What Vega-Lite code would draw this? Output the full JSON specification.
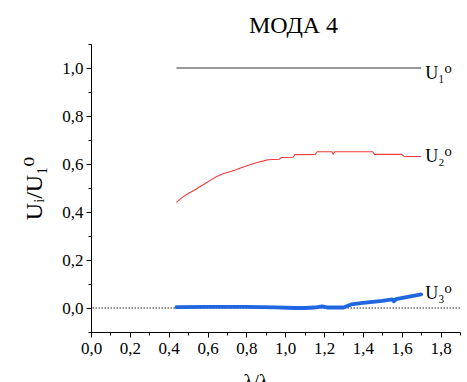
{
  "$schema": "https://vega.github.io/schema/vega-lite/v6.json",
  "autosize": {"type": "none"},
  "width": 369,
  "height": 288,
  "padding": {"left": 91, "top": 44, "right": 7, "bottom": 50},
  "background": "white",
  "config": {
    "view": {"stroke": null},
    "font": "Liberation Serif",
    "axis": {"domainColor": "black", "tickColor": "black", "labelColor": "black", "titleColor": "black", "labelFont": "Liberation Serif", "titleFont": "Liberation Serif, DejaVu Serif", "grid": false}
  },
  "title": {"text": "МОДА 4", "font": "Liberation Serif", "fontSize": 24, "fontWeight": "normal", "color": "black", "dx": 18, "frame": "group", "offset": 6},
  "resolve": {"axis": {"x": "independent", "y": "independent"}},
  "datasets": {
    "lines": [
      {"s": "U1", "x": 0.44, "y": 1.0},
      {"s": "U1", "x": 1.70, "y": 1.0},
      {"s": "U2", "x": 0.44, "y": 0.440},
      {"s": "U2", "x": 0.47, "y": 0.461},
      {"s": "U2", "x": 0.50, "y": 0.477},
      {"s": "U2", "x": 0.53, "y": 0.490},
      {"s": "U2", "x": 0.56, "y": 0.505},
      {"s": "U2", "x": 0.59, "y": 0.520},
      {"s": "U2", "x": 0.62, "y": 0.535},
      {"s": "U2", "x": 0.65, "y": 0.549},
      {"s": "U2", "x": 0.68, "y": 0.559},
      {"s": "U2", "x": 0.71, "y": 0.567},
      {"s": "U2", "x": 0.74, "y": 0.574},
      {"s": "U2", "x": 0.77, "y": 0.583},
      {"s": "U2", "x": 0.80, "y": 0.592},
      {"s": "U2", "x": 0.83, "y": 0.600},
      {"s": "U2", "x": 0.86, "y": 0.607},
      {"s": "U2", "x": 0.89, "y": 0.613},
      {"s": "U2", "x": 0.91, "y": 0.618},
      {"s": "U2", "x": 0.97, "y": 0.620},
      {"s": "U2", "x": 0.98, "y": 0.627},
      {"s": "U2", "x": 1.04, "y": 0.628},
      {"s": "U2", "x": 1.05, "y": 0.639},
      {"s": "U2", "x": 1.155, "y": 0.640},
      {"s": "U2", "x": 1.165, "y": 0.651},
      {"s": "U2", "x": 1.24, "y": 0.651},
      {"s": "U2", "x": 1.247, "y": 0.642},
      {"s": "U2", "x": 1.255, "y": 0.651},
      {"s": "U2", "x": 1.45, "y": 0.651},
      {"s": "U2", "x": 1.46, "y": 0.640},
      {"s": "U2", "x": 1.60, "y": 0.640},
      {"s": "U2", "x": 1.612, "y": 0.631},
      {"s": "U2", "x": 1.70, "y": 0.631},
      {"s": "U3", "x": 0.44, "y": 0.004},
      {"s": "U3", "x": 0.60, "y": 0.005},
      {"s": "U3", "x": 0.80, "y": 0.005},
      {"s": "U3", "x": 0.95, "y": 0.003},
      {"s": "U3", "x": 1.05, "y": 0.000},
      {"s": "U3", "x": 1.10, "y": 0.000},
      {"s": "U3", "x": 1.15, "y": 0.002},
      {"s": "U3", "x": 1.19, "y": 0.007},
      {"s": "U3", "x": 1.22, "y": 0.002},
      {"s": "U3", "x": 1.30, "y": 0.002},
      {"s": "U3", "x": 1.34, "y": 0.015},
      {"s": "U3", "x": 1.40, "y": 0.021},
      {"s": "U3", "x": 1.50, "y": 0.030},
      {"s": "U3", "x": 1.55, "y": 0.036},
      {"s": "U3", "x": 1.56, "y": 0.028},
      {"s": "U3", "x": 1.57, "y": 0.037},
      {"s": "U3", "x": 1.70, "y": 0.057}
    ],
    "labels": [
      {"s": "U1", "x": 1.70, "y": 1.0, "label": "U₁⁰"},
      {"s": "U2", "x": 1.70, "y": 0.631, "label": "U₂⁰"},
      {"s": "U3", "x": 1.70, "y": 0.057, "label": "U₃⁰"}
    ],
    "zero": [{"y": 0}]
  },
  "layer": [
    {
      "data": {"name": "lines"},
      "transform": [{"filter": "datum.s == 'U1'"}],
      "mark": {"type": "line", "color": "#333333", "strokeWidth": 1},
      "encoding": {
        "x": {
          "field": "x", "type": "quantitative",
          "scale": {"domain": [0, 1.9], "nice": false, "zero": false},
          "axis": {
            "orient": "bottom",
            "values": [0, 0.2, 0.4, 0.6, 0.8, 1.0, 1.2, 1.4, 1.6, 1.8],
            "labelExpr": "replace(format(datum.value, '.1f'), '.', ',')",
            "tickSize": 5, "labelFontSize": 17, "labelPadding": 3, "labelFlush": false, "labelOverlap": false,
            "title": "λ/λ₀", "titleFontSize": 20, "titleFontWeight": "normal", "titlePadding": 16, "titleX": 168
          }
        },
        "y": {
          "field": "y", "type": "quantitative",
          "scale": {"domain": [-0.1, 1.1], "nice": false, "zero": false},
          "axis": {
            "orient": "left",
            "values": [0, 0.2, 0.4, 0.6, 0.8, 1.0],
            "labelExpr": "replace(format(datum.value, '.1f'), '.', ',')",
            "tickSize": 5, "labelFontSize": 17, "labelPadding": 3, "labelFlush": false, "labelOverlap": false,
            "title": "Uᵢ/U₁⁰", "titleFontSize": 24, "titleFontWeight": "normal", "titlePadding": 15
          }
        }
      }
    },
    {
      "data": {"name": "lines"},
      "transform": [{"filter": "datum.s == 'U2'"}],
      "mark": {"type": "line", "color": "#ee3b3b", "strokeWidth": 1.1},
      "encoding": {
        "x": {
          "field": "x", "type": "quantitative",
          "axis": {"orient": "bottom", "values": [0.1, 0.3, 0.5, 0.7, 0.9, 1.1, 1.3, 1.5, 1.7, 1.9], "labels": false, "domain": false, "tickSize": 3, "title": null}
        },
        "y": {
          "field": "y", "type": "quantitative",
          "axis": {"orient": "left", "values": [-0.1, 0.1, 0.3, 0.5, 0.7, 0.9, 1.1], "labels": false, "domain": false, "tickSize": 3, "title": null}
        }
      }
    },
    {
      "data": {"name": "zero"},
      "mark": {"type": "rule", "color": "#222", "strokeWidth": 1, "strokeDash": [1.5, 1.5]},
      "encoding": {
        "y": {"field": "y", "type": "quantitative", "axis": null}
      }
    },
    {
      "data": {"name": "lines"},
      "transform": [{"filter": "datum.s == 'U3'"}],
      "mark": {"type": "line", "color": "#1f66e0", "strokeWidth": 3.8, "strokeCap": "round", "strokeJoin": "round"},
      "encoding": {
        "x": {"field": "x", "type": "quantitative", "axis": null},
        "y": {"field": "y", "type": "quantitative", "axis": null}
      }
    },
    {
      "data": {"name": "labels"},
      "transform": [{"filter": "datum.s == 'U1'"}],
      "mark": {"type": "text", "align": "left", "baseline": "middle", "dx": 4, "dy": 6, "fontSize": 18, "font": "Liberation Serif, DejaVu Serif", "color": "black"},
      "encoding": {
        "x": {"field": "x", "type": "quantitative", "axis": null},
        "y": {"field": "y", "type": "quantitative", "axis": null},
        "text": {"field": "label"}
      }
    },
    {
      "data": {"name": "labels"},
      "transform": [{"filter": "datum.s != 'U1'"}],
      "mark": {"type": "text", "align": "left", "baseline": "middle", "dx": 4, "fontSize": 18, "font": "Liberation Serif, DejaVu Serif", "color": "black"},
      "encoding": {
        "x": {"field": "x", "type": "quantitative", "axis": null},
        "y": {"field": "y", "type": "quantitative", "axis": null},
        "text": {"field": "label"}
      }
    }
  ]
}
